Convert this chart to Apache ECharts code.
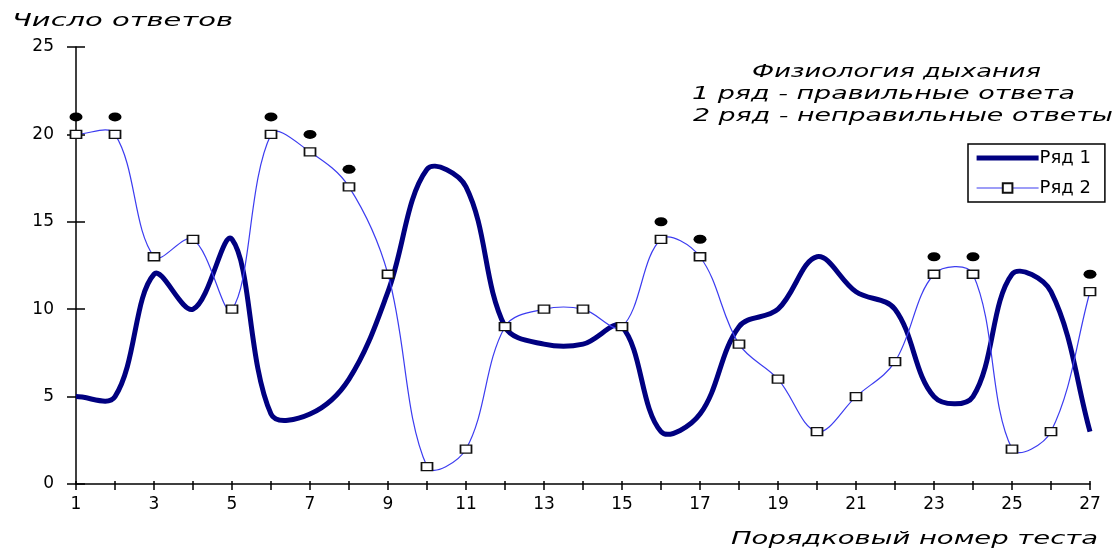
<!DOCTYPE html>
<html>
<head>
<meta charset="utf-8">
<script src="https://cdn.jsdelivr.net/npm/echarts@6/dist/echarts.min.js"></script>
<style>
  html, body { margin: 0; padding: 0; background: #fff; }
  #chart { width: 1117px; height: 549px; }
</style>
</head>
<body>
<div id="chart"></div>
<script>
// Test numbers (x axis)
const tests = [1,2,3,4,5,6,7,8,9,10,11,12,13,14,15,16,17,18,19,20,21,22,23,24,25,26,27];
// Ряд 1 - правильные ответы
const correct = [5,5,12,10,14,4,4,6,11,18,17,9,8,8,9,3,4,9,10,13,11,10,5,5,12,11,3];
// Ряд 2 - неправильные ответы
const wrong = [20,20,13,14,10,20,19,17,12,1,2,9,10,10,9,14,13,8,6,3,5,7,12,12,2,3,11];
// Black dots placed above selected tests
const flaggedTests = [1,2,6,7,8,16,17,23,24,27];
const flagValues = [21,21,21,20,18,15,14,13,13,12];
// Value axis range
const yTicks = [0,5,10,15,20,25];

const seriesNames = ['Ряд 1', 'Ряд 2'];
const navy = '#000080';
const blue = '#3c3cf0';

const FONT_FAMILY = '"DejaVu Sans", Verdana, sans-serif';
const measureCtx = document.createElement('canvas').getContext('2d');
function stretch(text, font, width) {
  measureCtx.font = font;
  return width / measureCtx.measureText(text).width;
}
function label(text, x, y, width, size) {
  const font = 'italic ' + size + 'px ' + FONT_FAMILY;
  return {
    type: 'text', x: x, y: y, scaleX: stretch(text, font, width), silent: true,
    style: { text: text, font: font, fill: '#000', verticalAlign: 'middle', align: 'left' }
  };
}

// Smoothed curve through the data points: cubic Bezier segments whose
// control points follow the neighbour-to-neighbour direction, weighted by
// the on-screen lengths of the adjacent segments. Points are placed with
// the chart's own coordinate conversion.
const SMOOTH = 0.36;
function smoothCurve(values, color, width) {
  return function (params, api) {
    const pts = tests.map((t, i) => api.coord([t, values[i]]));
    const n = pts.length;
    const cpIn = [], cpOut = [];
    for (let i = 0; i < n; i++) {
      const p = pts[i];
      const prev = pts[i - 1] || p;
      const next = pts[i + 1] || p;
      const vx = (next[0] - prev[0]) * SMOOTH, vy = (next[1] - prev[1]) * SMOOTH;
      const d0 = Math.hypot(p[0] - prev[0], p[1] - prev[1]);
      const d1 = Math.hypot(next[0] - p[0], next[1] - p[1]);
      const sum = d0 + d1 || 1;
      cpIn.push([p[0] - vx * d0 / sum, p[1] - vy * d0 / sum]);
      cpOut.push([p[0] + vx * d1 / sum, p[1] + vy * d1 / sum]);
    }
    let d = 'M' + pts[0][0] + ' ' + pts[0][1];
    for (let i = 0; i < n - 1; i++) {
      d += ' C' + cpOut[i][0] + ' ' + cpOut[i][1] + ' ' + cpIn[i + 1][0] + ' ' + cpIn[i + 1][1] +
           ' ' + pts[i + 1][0] + ' ' + pts[i + 1][1];
    }
    return {
      type: 'path',
      shape: { pathData: d },
      style: { stroke: color, lineWidth: width, fill: null, lineJoin: 'round', lineCap: 'butt' },
      silent: true
    };
  };
}

const chart = echarts.init(document.getElementById('chart'), null, { renderer: 'canvas' });

const axisColor = '#000';
const gridTop = 47, gridBottomPx = 484, gridLeft = 76, gridRightPx = 1090;

chart.setOption({
  animation: false,
  backgroundColor: '#fff',
  grid: { left: gridLeft, right: 1117 - gridRightPx, top: gridTop, bottom: 549 - gridBottomPx, containLabel: false },
  xAxis: [
    {
      type: 'value', min: tests[0], max: tests[tests.length - 1], interval: 1,
      axisLine: { lineStyle: { color: axisColor, width: 1.5 } },
      axisTick: { show: true, length: 6, lineStyle: { color: axisColor, width: 1.5 } },
      splitLine: { show: false },
      axisLabel: {
        margin: 12, fontSize: 17, color: '#000', fontFamily: FONT_FAMILY,
        formatter: v => (v % 2 === 1 ? String(v) : '')
      }
    },
    {
      // short tick stubs above the bottom axis line
      type: 'value', min: tests[0], max: tests[tests.length - 1], interval: 1,
      position: 'top', offset: -(gridBottomPx - gridTop),
      axisLine: { show: false },
      axisTick: { show: true, length: 3, lineStyle: { color: axisColor, width: 1.5 } },
      axisLabel: { show: false }, splitLine: { show: false }
    }
  ],
  yAxis: [
    {
      type: 'value', min: yTicks[0], max: yTicks[yTicks.length - 1], interval: 5,
      axisLine: { show: true, lineStyle: { color: axisColor, width: 1.5 } },
      axisTick: { show: true, length: 9, lineStyle: { color: axisColor, width: 1.5 } },
      splitLine: { show: false },
      axisLabel: { margin: 22, fontSize: 17, color: '#000', fontFamily: FONT_FAMILY }
    },
    {
      // tick stubs to the right of the left axis line
      type: 'value', min: yTicks[0], max: yTicks[yTicks.length - 1], interval: 5,
      position: 'right', offset: -(gridRightPx - gridLeft),
      axisLine: { show: false },
      axisTick: { show: true, length: 9, lineStyle: { color: axisColor, width: 1.5 } },
      axisLabel: { show: false }, splitLine: { show: false }
    }
  ],
  legend: {
    data: [
      { name: seriesNames[0], icon: 'path://M0 0H62V5H0Z', itemStyle: { color: navy } },
      { name: seriesNames[1], lineStyle: { color: blue, width: 1.2, opacity: 1 } }
    ],
    orient: 'vertical',
    left: 968, top: 144,
    backgroundColor: '#fff',
    borderColor: '#000', borderWidth: 1.5, borderRadius: 0,
    padding: [4, 14, 4, 8],
    itemWidth: 62, itemHeight: 12, itemGap: 10,
    textStyle: { fontSize: 18, color: '#000', fontFamily: FONT_FAMILY, lineHeight: 20, padding: [0, 0, 0, -4] }
  },
  graphic: [
    label('Число ответов', 12, 21, 221, 18),
    label('Физиология дыхания', 752, 72, 289, 18),
    label('1 ряд - правильные ответа', 692, 94, 383, 18),
    label('2 ряд - неправильные ответы', 693, 116, 420, 18),
    label('Порядковый номер теста', 731, 539, 367, 18)
  ],
  series: [
    {
      // Ряд 1: the data points (curve drawn by the custom series below)
      name: seriesNames[0], type: 'line',
      data: tests.map((t, i) => [t, correct[i]]),
      symbol: 'none', showSymbol: false,
      lineStyle: { color: navy, width: 5, opacity: 0 },
      itemStyle: { color: navy },
      z: 3
    },
    {
      type: 'custom', name: 'curve1', coordinateSystem: 'cartesian2d',
      data: [[tests[0], correct[0]]],
      renderItem: smoothCurve(correct, navy, 5),
      z: 3
    },
    {
      type: 'custom', name: 'curve2', coordinateSystem: 'cartesian2d',
      data: [[tests[0], wrong[0]]],
      renderItem: smoothCurve(wrong, blue, 1.2),
      z: 4
    },
    {
      // Ряд 2: square markers on the data points
      name: seriesNames[1], type: 'line',
      data: tests.map((t, i) => [t, wrong[i]]),
      symbol: 'rect', symbolSize: [11, 8], showSymbol: true,
      lineStyle: { color: blue, width: 1.2, opacity: 0 },
      itemStyle: { color: '#fff', borderColor: '#111', borderWidth: 1.5 },
      z: 5
    },
    {
      name: 'flags', type: 'scatter',
      data: flaggedTests.map((t, i) => [t, flagValues[i]]),
      symbol: 'circle', symbolSize: [13, 9],
      itemStyle: { color: '#000', opacity: 1 },
      z: 6
    }
  ]
});
</script>
</body>
</html>
